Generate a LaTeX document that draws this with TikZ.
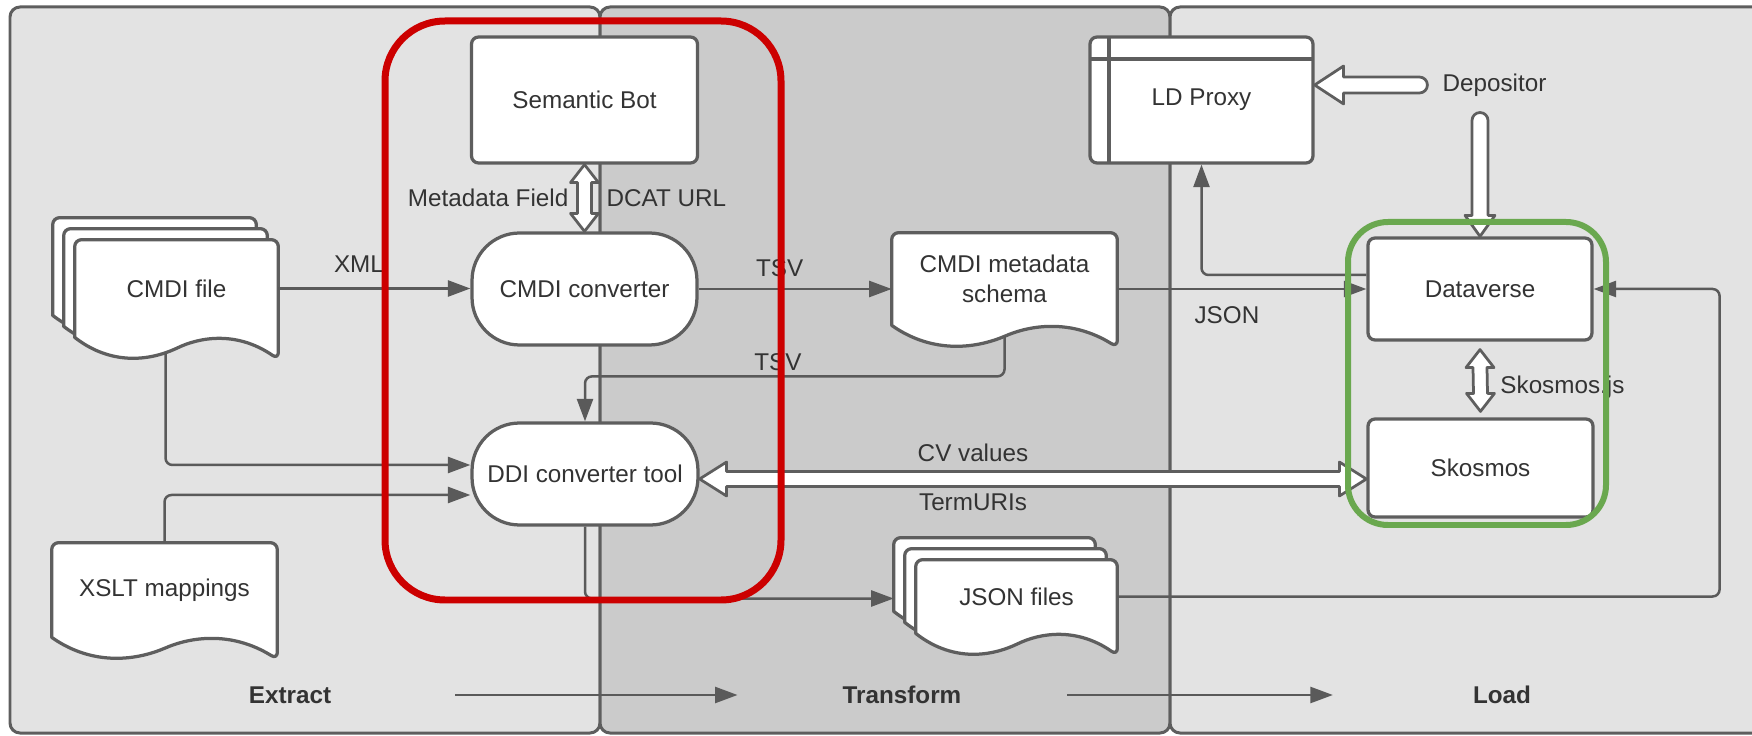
\documentclass[tikz,border=0pt]{standalone}
\usepackage{fontspec}
\setmainfont{Liberation Sans}
\usetikzlibrary{arrows.meta, calc}

\definecolor{panelLight}{HTML}{E3E3E3}
\definecolor{panelDark}{HTML}{CBCBCB}
\definecolor{edgeGray}{HTML}{5E5E5E}
\definecolor{arrowGray}{HTML}{5A5A5A}
\definecolor{textGray}{HTML}{333333}
\definecolor{frameRed}{HTML}{CC0000}
\definecolor{frameGreen}{HTML}{6AA84F}

\pgfdeclarelayer{panels}
\pgfdeclarelayer{paper}
\pgfsetlayers{panels,paper,main}

\tikzset{
  etlfont/.style={font=\fontsize{13.8}{17}\selectfont, text=textGray},
  etlbox/.style={
    draw=edgeGray, line width=0.065cm, fill=white, rounded corners=4pt,
    align=center, etlfont
  },
  etlterm/.style={etlbox, rounded corners=0.95cm},
  etlstore/.style={etlbox, path picture={
      \draw[draw=edgeGray, line width=0.065cm]
        ([yshift=-0.44cm]path picture bounding box.north west) --
        ([yshift=-0.44cm]path picture bounding box.north east)
        ([xshift=0.38cm]path picture bounding box.north west) --
        ([xshift=0.38cm]path picture bounding box.south west);}
  },
  etldoc/.style={draw=none, align=center, etlfont},
  docline/.style={draw=edgeGray, line width=0.065cm, fill=white, line join=round},
  etlarrow/.style={
    draw=arrowGray, line width=0.05cm, rounded corners=0.14cm,
    -{Triangle[length=0.45cm, width=0.32cm]}
  },
  etlfat/.style={draw=edgeGray, line width=0.055cm, fill=white, line join=round},
  etllabel/.style={etlfont},
  etlphase/.style={etlfont, font=\fontsize{13.8}{17}\selectfont\bfseries},
  etlpanel/.style={draw=edgeGray, line width=0.06cm, rounded corners=0.2cm},
  hilite/.style={line width=0.14cm, rounded corners=1.2cm},
}

% page outline with a wavy bottom, #1 = offset for stacked pages
\newcommand{\docoutline}[2][0,0]{%
  \filldraw[docline] ($(#2.south east)+(#1)+(0,22)$)
    .. controls ($(#2.south west)!0.8!(#2.south east)+(#1)+(0,-6)$)
       and ($(#2.south west)!0.62!(#2.south east)+(#1)+(0,-1)$)
    .. ($(#2.south west)!0.5!(#2.south east)+(#1)+(0,11)$)
    .. controls ($(#2.south west)!0.33!(#2.south east)+(#1)+(0,27)$)
       and ($(#2.south west)!0.15!(#2.south east)+(#1)+(0,24)$)
    .. ($(#2.south west)+(#1)$)
    [rounded corners=4pt] -- ($(#2.north west)+(#1)$)
    -- ($(#2.north east)+(#1)$) -- cycle;}
\newcommand{\docstack}[1]{%
  \docoutline[-22,-22]{#1}\docoutline[-11,-11]{#1}\docoutline{#1}}

% hollow fat arrows
\newcommand{\fatpairv}[2]{% #1 top tip, #2 bottom tip
  \filldraw[etlfat] (#1) -- ++(14,18) -- ++(-7,0) -- ($(#2)+(7,-18)$)
    -- ++(7,0) -- (#2) -- ++(-14,-18) -- ++(7,0) -- ($(#1)+(-7,18)$)
    -- ++(-7,0) -- cycle;}
\newcommand{\fatpairh}[2]{% #1 left tip, #2 right tip
  \filldraw[etlfat] (#1) -- ++(27,-17) -- ++(0,9.5) -- ($(#2)+(-27,-7.5)$)
    -- ++(0,-9.5) -- (#2) -- ++(-27,17) -- ++(0,-9.5) -- ($(#1)+(27,7.5)$)
    -- ++(0,9.5) -- cycle;}
\newcommand{\fatoneh}[2]{% #1 left tip, #2 centre of the round tail
  \filldraw[etlfat] (#1) -- ++(29,-19) -- ++(0,11) -- ($(#2)+(0,-8)$)
    arc[start angle=90, end angle=-90, radius=0.16cm]
    -- ($(#1)+(29,8)$) -- ++(0,11) -- cycle;}
\newcommand{\fatonev}[2]{% #1 bottom tip, #2 centre of the round tail
  \filldraw[etlfat] (#1) -- ++(-15,-21) -- ++(7,0) -- ($(#2)+(-8,0)$)
    arc[start angle=180, end angle=0, radius=0.16cm]
    -- ($(#1)+(8,-21)$) -- ++(7,0) -- cycle;}

\begin{document}
\begin{tikzpicture}[x=0.02cm, y=-0.02cm]
  \useasboundingbox (0,0) rectangle (1752,736);

  % Phase panels
  \begin{pgfonlayer}{panels}
    \fill[white] (0,0) rectangle (1752,736);
    \filldraw[etlpanel, fill=panelLight] (10,7) rectangle (600,733);
    \filldraw[etlpanel, fill=panelDark] (600,7) rectangle (1170,733);
    \filldraw[etlpanel, fill=panelLight] (1752,7) -- (1170,7) -- (1170,733) -- (1752,733);
  \end{pgfonlayer}

  % Extract
  \node[etldoc, minimum width=4.06cm, minimum height=1.94cm] (cmdifile) at (176.5,288.5) {CMDI file};
  \node[etldoc, minimum width=4.5cm, minimum height=1.88cm] (xslt) at (164.5,590) {XSLT mappings};
  \node[etlbox, minimum width=4.52cm, minimum height=2.52cm] (bot) at (584.5,100) {Semantic Bot};
  \node[etlterm, minimum width=4.5cm, minimum height=2.24cm] (cmdiconv) at (584.5,289) {CMDI converter};
  \node[etlterm, minimum width=4.52cm, minimum height=2.04cm] (ddi) at (585,474) {DDI converter tool};

  % Transform
  \node[etldoc, minimum width=4.5cm, minimum height=1.84cm] (schema) at (1004.5,279) {CMDI metadata\\schema};
  \node[etldoc, minimum width=4.02cm, minimum height=1.46cm] (jsonfiles) at (1016.5,596.5) {JSON files};

  % Load
  \node[etlstore, minimum width=4.46cm, minimum height=2.52cm] (ldproxy) at (1201.5,100) {LD Proxy};
  \node[etllabel] (depositor) at (1494.5,85) {Depositor};
  \node[etlbox, minimum width=4.48cm, minimum height=2.04cm] (dataverse) at (1480,289) {Dataverse};
  \node[etlbox, minimum width=4.5cm, minimum height=1.96cm] (skosmos) at (1480.5,468) {Skosmos};

  % Phase labels
  \node[etlphase] (extract) at (290,695) {Extract};
  \node[etlphase] (transform) at (902,695) {Transform};
  \node[etlphase] (load) at (1502,695) {Load};

  \begin{pgfonlayer}{paper}
    \docstack{cmdifile}
    \docoutline{xslt}
    \docoutline{schema}
    \docstack{jsonfiles}
  \end{pgfonlayer}

  % Data flow
  \draw[etlarrow] (cmdifile.east) -- node[etllabel, pos=0.42, yshift=0.48cm] {XML}
    (cmdifile.east -| cmdiconv.west);
  \draw[etlarrow] (cmdiconv.east) -- node[etllabel, pos=0.42, yshift=0.42cm] {TSV}
    (cmdiconv.east -| schema.west);
  \draw[etlarrow] ($(schema.south)+(0,11)$) |- node[etllabel, pos=0.77, yshift=0.28cm] {TSV}
    ($(ddi.north)+(0,-45)$) -- (ddi.north);
  \draw[etlarrow] ($(cmdifile.south)+(-11,16)$) |- ($(ddi.west)+(0,-9)$);
  \draw[etlarrow] (xslt.north) |- ($(ddi.west)+(0,21)$);
  \draw[etlarrow] (ddi.south) |- ($(jsonfiles.west)+(-22,2)$);
  \draw[etlarrow] (schema.east |- dataverse.west) -- node[etllabel, pos=0.44, yshift=-0.52cm] {JSON}
    (dataverse.west);
  \draw[etlarrow] ($(dataverse.west)+(0,-14)$) -| (ldproxy.south);
  \draw[etlarrow] (jsonfiles.east) -| ($(dataverse.east)+(126,0)$) -- (dataverse.east);

  % Fat links
  \fatpairv{bot.south}{cmdiconv.north}
  \path (bot.south) -- node[etllabel, left=0.2cm] {Metadata Field}
    node[etllabel, right=0.32cm] {DCAT URL} (cmdiconv.north);

  \coordinate (cvleft) at ($(ddi.east)+(0,5)$);
  \coordinate (cvright) at (cvleft -| skosmos.west);
  \fatpairh{cvleft}{cvright}
  \path (cvleft) -- node[etllabel, pos=0.41, yshift=0.52cm] {CV values}
    node[etllabel, pos=0.41, yshift=-0.46cm] {TermURIs} (cvright);

  \coordinate (ldtip) at (ldproxy.east |- depositor.west);
  \coordinate (deptail) at ($(depositor.west)+(-17,0)$);
  \fatoneh{ldtip}{deptail}

  \coordinate (dvtail) at ($(dataverse.north |- depositor.south)+(0,18)$);
  \fatonev{dataverse.north}{dvtail}

  \coordinate (jstop) at ($(dataverse.south)+(0,8)$);
  \coordinate (jsbot) at ($(skosmos.north)+(0,-6)$);
  \fatpairv{jstop}{jsbot}
  \path (jstop) -- node[etllabel, right=0.28cm, yshift=-0.14cm] {Skosmos.js} (jsbot);

  % Phase arrows
  \draw[etlarrow, shorten <=2.36cm, shorten >=1.98cm] (extract) -- (transform);
  \draw[etlarrow, shorten <=2.0cm, shorten >=2.68cm] (transform) -- (load);

  % Highlight frames
  \draw[hilite, draw=frameRed] (385,21) rectangle (781,600);
  \draw[hilite, draw=frameGreen, line width=0.12cm, rounded corners=0.8cm] (1348,222) rectangle (1606,525);
\end{tikzpicture}
\end{document}
